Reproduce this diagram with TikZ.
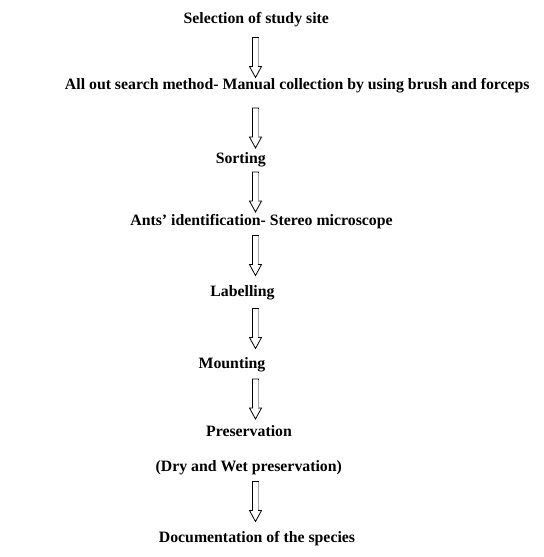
\documentclass[tikz,border=0pt]{standalone}
\usepackage{fontspec}
\setmainfont{Liberation Serif}
\begin{document}
\begin{tikzpicture}[x=0.75pt,y=-0.75pt,
  lbl/.style={anchor=base,inner sep=0pt,font=\fontsize{11.85}{14}\selectfont\bfseries},
  arrowline/.style={draw=black,line width=0.6pt,line join=miter},
  hollowarrow/.pic={
    \draw[arrowline] (-3,0) -- (-3,29) -- (-6,29) -- (0,40) -- (6,29) -- (3,29) -- (3,0) -- cycle;
    \draw[gray!70,line width=0.9pt] (3,0.5) -- (3,28.5);
  }]
\useasboundingbox (0,0) rectangle (543,557);
\node[lbl] (n1) at (256.3,23) {Selection of study site};
\node[lbl] (n2) at (297.3,89.3) {All out search method- Manual collection by using brush and forceps};
\node[lbl] (n3) at (240.8,163.3) {Sorting};
\node[lbl] (n4) at (261.5,225.7) {Ants’ identification- Stereo microscope};
\node[lbl] (n5) at (242.5,296.7) {Labelling};
\node[lbl] (n6) at (232,368.3) {Mounting};
\node[lbl] (n7) at (249,436.7) {Preservation};
\node[lbl] (n8) at (248.8,471.7) {(Dry and Wet preservation)};
\node[lbl] (n9) at (257,542.7) {Documentation of the species};
\pic (a1) at (255.5,37.5) {hollowarrow};
\pic (a2) at (255.5,108) {hollowarrow};
\pic (a3) at (255.5,172) {hollowarrow};
\pic (a4) at (255.5,235.5) {hollowarrow};
\pic (a5) at (255.5,308.5) {hollowarrow};
\pic (a6) at (255.5,379) {hollowarrow};
\pic (a7) at (255.5,481.5) {hollowarrow};
\end{tikzpicture}
\end{document}
